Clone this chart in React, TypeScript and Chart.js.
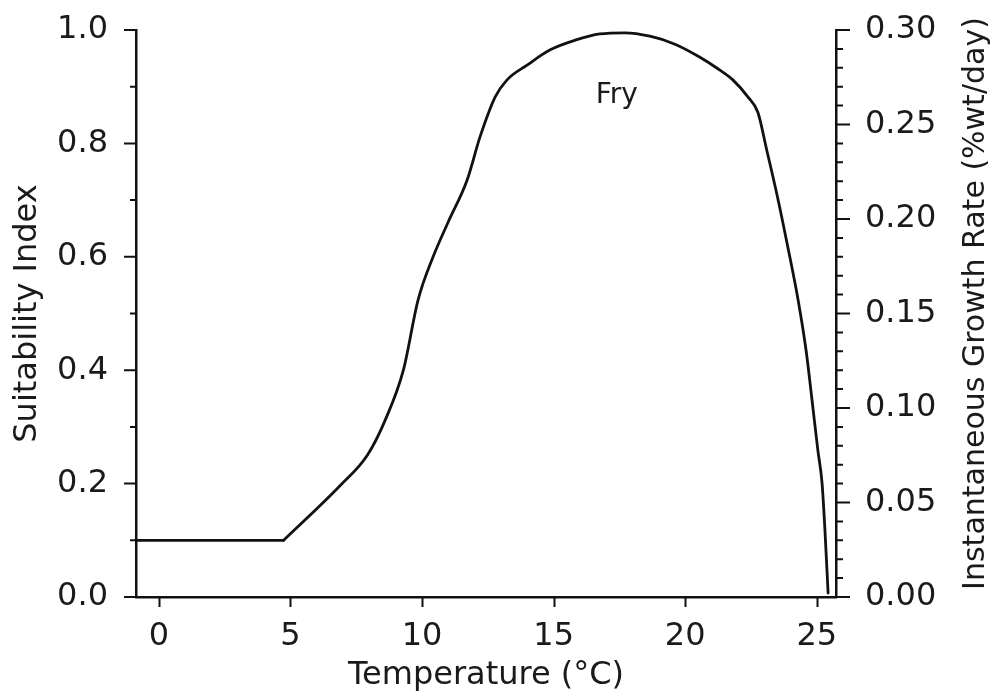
import React, { useEffect, useRef } from "react";
import { Chart, registerables } from "chart.js";

Chart.register(...registerables);

// ---- data ----
// flat low-temperature part of the curve
const flatTemperatureC = [-0.87, 4.74];
const flatSuitability = [0.1, 0.1];
// rising / falling part of the curve
const temperatureC = [
  4.74, 6.9, 7.92, 8.6, 9.29, 9.85, 10.42, 10.99, 11.71, 12.2, 12.78, 13.23,
  13.99, 14.87, 15.82, 16.76, 17.71, 18.66, 19.61, 20.56, 21.2, 21.81, 22.38, 22.76,
  23.1, 23.49, 23.87, 24.29, 24.59, 24.82, 25.04, 25.2, 25.31, 25.43,
];
const suitabilityIndex = [
  0.1, 0.197, 0.25, 0.312, 0.4, 0.524, 0.6, 0.661, 0.735, 0.811, 0.882, 0.912,
  0.938, 0.965, 0.982, 0.993, 0.995, 0.989, 0.975, 0.952, 0.933, 0.912, 0.882, 0.855,
  0.788, 0.709, 0.624, 0.524, 0.436, 0.347, 0.259, 0.201, 0.118, 0.007,
];

const xTickValues = [0, 5, 10, 15, 20, 25];
const leftMajorTicks = [0, 0.2, 0.4, 0.6, 0.8, 1.0];
const leftMinorTicks = [0.1, 0.3, 0.5, 0.7, 0.9];
const rightMajorTicks = [0, 0.05, 0.1, 0.15, 0.2, 0.25, 0.3];
const rightMinorTicks = [
  0.01, 0.02, 0.03, 0.04, 0.06, 0.07, 0.08, 0.09, 0.11, 0.12, 0.13, 0.14, 0.16, 0.17,
  0.18, 0.19, 0.21, 0.22, 0.23, 0.24, 0.26, 0.27, 0.28, 0.29,
];

const curveLabel = "Fry";
const curveLabelPos = { x: 17.4, y: 0.884 };
const xTitle = "Temperature (°C)";
const leftTitle = "Suitability Index";
const rightTitle = "Instantaneous Growth Rate (%wt/day)";

const FONT = "'DejaVu Sans', sans-serif";
const INK = "#1a1a1a";
const LINE = "#111111";

const tickMarksPlugin = {
  id: "tickMarksAndLabels",
  afterDraw(chart: any) {
    const { ctx, chartArea, scales } = chart;
    const x = scales.x;
    const y = scales.y;
    const y2 = scales.y2;
    ctx.save();
    ctx.strokeStyle = LINE;
    ctx.lineWidth = 2;
    ctx.beginPath();
    xTickValues.forEach((v) => {
      const px = Math.round(x.getPixelForValue(v)) + 0.5;
      ctx.moveTo(px, chartArea.bottom);
      ctx.lineTo(px, chartArea.bottom + 10);
    });
    leftMajorTicks.forEach((v) => {
      const py = y.getPixelForValue(v);
      ctx.moveTo(chartArea.left, py);
      ctx.lineTo(chartArea.left - 12, py);
    });
    leftMinorTicks.forEach((v) => {
      const py = y.getPixelForValue(v);
      ctx.moveTo(chartArea.left, py);
      ctx.lineTo(chartArea.left - 6, py);
    });
    rightMajorTicks.forEach((v) => {
      const py = y2.getPixelForValue(v);
      ctx.moveTo(chartArea.right, py);
      ctx.lineTo(chartArea.right + 14, py);
    });
    rightMinorTicks.forEach((v) => {
      const py = y2.getPixelForValue(v);
      ctx.moveTo(chartArea.right, py);
      ctx.lineTo(chartArea.right + 7, py);
    });
    ctx.stroke();

    // curve label
    ctx.fillStyle = INK;
    ctx.font = `28px ${FONT}`;
    ctx.textAlign = "center";
    ctx.textBaseline = "middle";
    ctx.fillText(curveLabel, x.getPixelForValue(curveLabelPos.x), y.getPixelForValue(curveLabelPos.y));

    // right axis title (reads bottom to top)
    ctx.font = `30px ${FONT}`;
    ctx.translate(y2.right - 18, (chartArea.top + chartArea.bottom) / 2 - 10);
    ctx.rotate(-Math.PI / 2);
    ctx.fillText(rightTitle, 0, 0);
    ctx.restore();
  },
};

const noScalePadding = (scale: any) => {
  scale.paddingTop = 0;
  scale.paddingBottom = 0;
  scale.paddingLeft = 0;
  scale.paddingRight = 0;
};

export default function App() {
  const canvasRef = useRef<HTMLCanvasElement | null>(null);

  useEffect(() => {
    const canvas = canvasRef.current;
    if (!canvas) return;
    const lineStyle = {
      borderColor: LINE,
      borderWidth: 2.8,
      pointRadius: 0,
      fill: false,
      borderJoinStyle: "round" as const,
      borderCapStyle: "round" as const,
      yAxisID: "y",
    };
    const chart = new Chart(canvas, {
      type: "line",
      data: {
        datasets: [
          {
            ...lineStyle,
            label: curveLabel + " (flat)",
            data: flatTemperatureC.map((t, i) => ({ x: t, y: flatSuitability[i] })),
            tension: 0,
          },
          {
            ...lineStyle,
            label: curveLabel,
            data: temperatureC.map((t, i) => ({ x: t, y: suitabilityIndex[i] })),
            cubicInterpolationMode: "monotone",
          },
        ],
      },
      options: {
        responsive: false,
        animation: false,
        layout: { padding: { top: 30, left: 0, right: 0, bottom: 0 } },
        plugins: { legend: { display: false }, tooltip: { enabled: false } },
        scales: {
          x: {
            type: "linear",
            position: "bottom",
            min: -0.87,
            max: 25.73,
            afterBuildTicks: (scale: any) => {
              scale.ticks = xTickValues.map((v) => ({ value: v }));
            },
            afterFit: (scale: any) => {
              scale.height = 102;
              noScalePadding(scale);
            },
            grid: { display: false, drawTicks: false },
            border: { display: true, color: LINE, width: 2.5 },
            ticks: {
              autoSkip: false,
              maxRotation: 0,
              padding: 20,
              color: INK,
              font: { family: FONT, size: 32 },
              callback: (v: any) => String(v),
            },
            title: {
              display: true,
              text: xTitle,
              color: INK,
              font: { family: FONT, size: 32 },
              padding: { top: 0, bottom: 4 },
            },
          },
          y: {
            type: "linear",
            position: "left",
            min: 0,
            max: 1,
            afterBuildTicks: (scale: any) => {
              scale.ticks = leftMajorTicks.map((v) => ({ value: v }));
            },
            afterFit: (scale: any) => {
              scale.width = 136;
              noScalePadding(scale);
            },
            grid: { display: false, drawTicks: false },
            border: { display: true, color: LINE, width: 2.5 },
            ticks: {
              autoSkip: false,
              padding: 28,
              color: INK,
              font: { family: FONT, size: 32 },
              callback: (v: any) => Number(v).toFixed(1),
            },
            title: {
              display: true,
              text: leftTitle,
              color: INK,
              font: { family: FONT, size: 32 },
              padding: { top: 8, bottom: 0 },
            },
          },
          y2: {
            type: "linear",
            position: "right",
            min: 0,
            max: 0.3,
            afterBuildTicks: (scale: any) => {
              scale.ticks = rightMajorTicks.map((v) => ({ value: v }));
            },
            afterFit: (scale: any) => {
              scale.width = 158;
              noScalePadding(scale);
            },
            grid: { display: false, drawTicks: false },
            border: { display: true, color: LINE, width: 2.5 },
            ticks: {
              autoSkip: false,
              padding: 29,
              color: INK,
              font: { family: FONT, size: 32 },
              callback: (v: any) => Number(v).toFixed(2),
            },
          },
        },
      },
      plugins: [tickMarksPlugin],
    });
    return () => chart.destroy();
  }, []);

  return (
    <div style={{ position: "absolute", left: 0, top: 0, width: 994, height: 699, background: "#fff" }}>
      <canvas ref={canvasRef} width={994} height={699} style={{ display: "block" }} />
    </div>
  );
}
